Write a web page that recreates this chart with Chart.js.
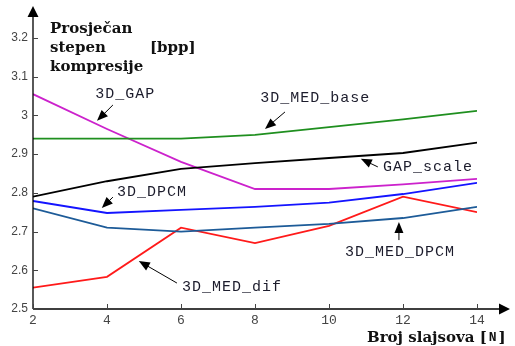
<!DOCTYPE html>
<html>
<head>
<meta charset="utf-8">
<script src="https://cdn.jsdelivr.net/npm/chart.js@4/dist/chart.umd.min.js"></script>
<style>
  html, body { margin: 0; padding: 0; background: #fff; }
  #wrap { width: 515px; height: 346px; }
</style>
</head>
<body>
<div id="wrap"><canvas id="chart" width="515" height="346"></canvas></div>
<script>
// Broj slajsova (x) and compression per method (bpp)
const slices = [2, 4, 6, 8, 10, 12, 14];
const medBase = [2.94, 2.94, 2.94, 2.95, 2.97, 2.99, 3.012];
const gapScale = [2.79, 2.83, 2.862, 2.877, 2.89, 2.903, 2.93];
const gap3d = [3.055, 2.965, 2.88, 2.81, 2.81, 2.822, 2.836];
const dpcm3d = [2.779, 2.748, 2.756, 2.764, 2.775, 2.797, 2.826];
const medDpcm = [2.76, 2.71, 2.70, 2.71, 2.72, 2.735, 2.764];
const medDif = [2.555, 2.583, 2.71, 2.67, 2.715, 2.79, 2.75];

const xTicks = [2, 4, 6, 8, 10, 12, 14];
const yTicks = [2.5, 2.6, 2.7, 2.8, 2.9, 3.0, 3.1, 3.2];

// labels with arrows, in data units: [text, textX, textY, fromX, fromY, toX, toY]
const notes = [
  ['3D_GAP', 3.68, 3.056, 4.16, 3.027, 3.73, 2.986],
  ['3D_DPCM', 4.27, 2.802, 4.16, 2.789, 3.86, 2.761],
  ['3D_MED_base', 8.14, 3.045, 8.81, 3.009, 8.27, 2.965],
  ['GAP_scale', 11.46, 2.867, 11.32, 2.867, 10.86, 2.888],
  ['3D_MED_dif', 6.03, 2.557, 5.89, 2.567, 4.86, 2.624],
  ['3D_MED_DPCM', 10.43, 2.647, 11.89, 2.678, 11.89, 2.725],
];

function series(values, color) {
  return {
    data: slices.map((s, i) => ({ x: s, y: values[i] })),
    borderColor: color,
    borderWidth: 1.8,
    pointRadius: 0,
    tension: 0,
    fill: false,
  };
}

function arrow(ctx, x1, y1, x2, y2) {
  const a = Math.atan2(y2 - y1, x2 - x1);
  const len = 11, half = 4.5;
  ctx.beginPath();
  ctx.moveTo(x1, y1);
  ctx.lineTo(x2 - Math.cos(a) * len * 0.6, y2 - Math.sin(a) * len * 0.6);
  ctx.stroke();
  ctx.beginPath();
  ctx.moveTo(x2, y2);
  ctx.lineTo(x2 - Math.cos(a) * len + Math.sin(a) * half, y2 - Math.sin(a) * len - Math.cos(a) * half);
  ctx.lineTo(x2 - Math.cos(a) * len - Math.sin(a) * half, y2 - Math.sin(a) * len + Math.cos(a) * half);
  ctx.closePath();
  ctx.fill();
}

const decor = {
  id: 'decor',
  afterDraw(chart) {
    const { ctx, scales: { x, y } } = chart;
    const x0 = x.getPixelForValue(2), y0 = y.getPixelForValue(2.5);
    ctx.save();

    // axes with arrow ends
    ctx.strokeStyle = '#000';
    ctx.fillStyle = '#000';
    ctx.lineWidth = 1.3;
    ctx.beginPath();
    ctx.moveTo(x0, y0);
    ctx.lineTo(x0, 14);
    ctx.moveTo(x0, y0);
    ctx.lineTo(500, y0);
    ctx.stroke();
    ctx.beginPath();
    ctx.moveTo(x0, 6); ctx.lineTo(x0 - 5.5, 17); ctx.lineTo(x0 + 5.5, 17); ctx.closePath();
    ctx.moveTo(510, y0); ctx.lineTo(499, y0 - 5.5); ctx.lineTo(499, y0 + 5.5); ctx.closePath();
    ctx.fill();

    // inward tick marks
    ctx.strokeStyle = '#444';
    ctx.lineWidth = 1;
    ctx.beginPath();
    yTicks.forEach(v => {
      const py = Math.round(y.getPixelForValue(v)) + 0.5;
      ctx.moveTo(x0, py); ctx.lineTo(x0 + 5, py);
    });
    xTicks.forEach(v => {
      const px = Math.round(x.getPixelForValue(v)) + 0.5;
      ctx.moveTo(px, y0); ctx.lineTo(px, y0 - 5);
    });
    ctx.stroke();

    // arrows and labels
    ctx.strokeStyle = '#000';
    ctx.fillStyle = '#000';
    ctx.lineWidth = 1;
    notes.forEach(n => {
      arrow(ctx, x.getPixelForValue(n[3]), y.getPixelForValue(n[4]),
        x.getPixelForValue(n[5]), y.getPixelForValue(n[6]));
    });
    ctx.fillStyle = '#1c1c2c';
    ctx.font = "15px 'Liberation Mono'";
    if ('letterSpacing' in ctx) ctx.letterSpacing = '1px';
    ctx.textBaseline = 'middle';
    ctx.textAlign = 'left';
    notes.forEach(n => {
      ctx.fillText(n[0], x.getPixelForValue(n[1]), y.getPixelForValue(n[2]));
    });
    if ('letterSpacing' in ctx) ctx.letterSpacing = '0px';

    // axis titles
    ctx.fillStyle = '#111';
    ctx.font = "bold 15px 'DejaVu Serif'";
    ctx.fillText('Prosječan', 50, 29);
    ctx.fillText('stepen', 50, 48);
    ctx.fillText('[bpp]', 150, 48);
    ctx.fillText('kompresije', 50, 67);
    const t = 'Broj slajsova ';
    ctx.fillText(t, 367, 338);
    const w = ctx.measureText(t).width;
    ctx.fillText('[', 367 + w, 338);
    const wb = ctx.measureText('[').width;
    ctx.font = "bold 13px 'Liberation Mono'";
    ctx.fillText('N', 367 + w + wb + 2, 338);
    const wn = ctx.measureText('N').width;
    ctx.font = "bold 15px 'DejaVu Serif'";
    ctx.fillText(']', 367 + w + wb + wn + 4, 338);
    ctx.restore();
  },
};

new Chart(document.getElementById('chart'), {
  type: 'line',
  data: {
    datasets: [
      series(medBase, '#1f8f1f'),
      series(gapScale, '#000000'),
      series(gap3d, '#cc22cc'),
      series(dpcm3d, '#1414ff'),
      series(medDpcm, '#1d5b98'),
      series(medDif, '#ff1a1a'),
    ],
  },
  options: {
    responsive: false,
    animation: false,
    layout: { padding: { left: 0, right: 38, top: 38, bottom: 0 } },
    plugins: { legend: { display: false }, tooltip: { enabled: false } },
    scales: {
      x: {
        type: 'linear',
        min: 2,
        max: 14,
        afterFit: s => { s.height = 37; },
        afterBuildTicks: s => { s.ticks = xTicks.map(v => ({ value: v })); },
        grid: { display: false, drawTicks: false },
        border: { display: false },
        ticks: {
          color: '#444',
          font: { family: 'Liberation Mono', size: 13 },
          padding: 4,
          maxRotation: 0,
        },
      },
      y: {
        min: 2.5,
        max: 3.2,
        afterFit: s => { s.width = 33; },
        afterBuildTicks: s => { s.ticks = yTicks.map(v => ({ value: v })); },
        grid: { display: false, drawTicks: false },
        border: { display: false },
        ticks: {
          color: '#444',
          font: { family: 'Liberation Sans', size: 12 },
          padding: 5,
          callback: v => String(Math.round(v * 10) / 10),
        },
      },
    },
  },
  plugins: [decor],
});
</script>
</body>
</html>
